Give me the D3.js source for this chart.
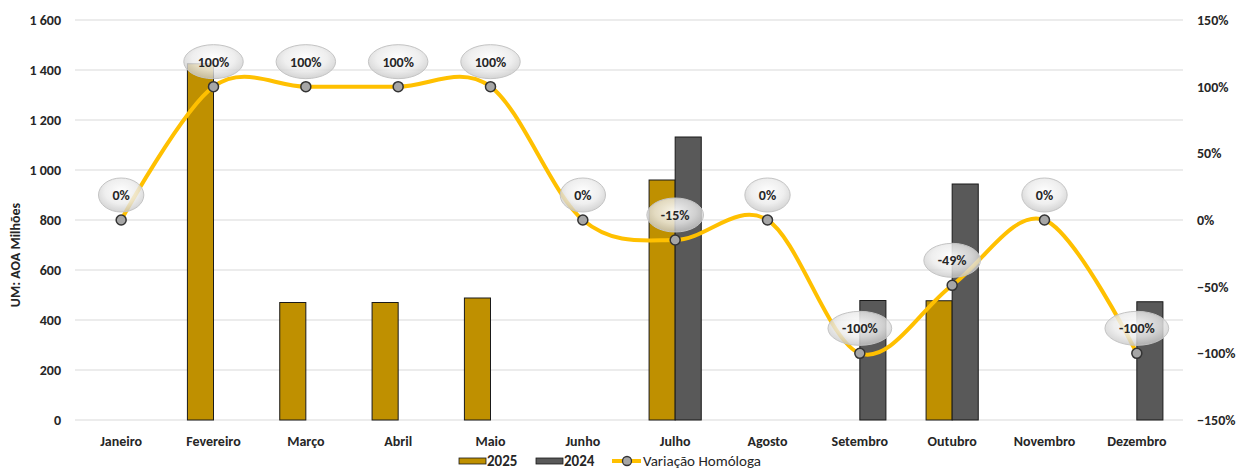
<!DOCTYPE html>
<html><head><meta charset="utf-8">
<script src="https://cdn.jsdelivr.net/npm/d3@7/dist/d3.min.js"></script>
<style>
body{margin:0;background:#fff;}
svg{display:block;font-family:Carlito,Lato,"Liberation Sans",sans-serif;}
</style></head><body>
<svg id="c" width="1237" height="470"></svg>
<script>
const months = ["Janeiro","Fevereiro","Março","Abril","Maio","Junho","Julho","Agosto","Setembro","Outubro","Novembro","Dezembro"];
const values2025 = [0,1425,470,470,488,0,960,0,0,477,0,0];
const values2024 = [0,0,0,0,0,0,1132,0,478,944,0,473];
const variation = [0,1.00,1.00,1.00,1.00,0,-0.15,0,-1.00,-0.49,0,-1.00];
const variationLabels = ["0%","100%","100%","100%","100%","0%","-15%","0%","-100%","-49%","0%","-100%"];
const leftTicks = [0,200,400,600,800,1000,1200,1400,1600];
const rightTicks = [-1.5,-1,-0.5,0,0.5,1,1.5];
const seriesNames = ["2025","2024"];
const lineName = "Variação Homóloga";
const axisTitle = "UM: AOA Milhões";

const C25 = "#BF9000", C24 = "#595959", CL = "#FFC000";
const svg = d3.select("#c");
const L = 75, R = 1183, T = 20, B = 420;

const x = d3.scaleBand().domain(months).range([L, R]);
const yL = d3.scaleLinear().domain([0,1600]).range([B, T]);
const yR = d3.scaleLinear().domain([-1.5,1.5]).range([B, T]);
const groupW = x.bandwidth()*0.565;
const xs = d3.scaleBand().domain(seriesNames).range([-groupW/2, groupW/2]);
const cx = m => x(m) + x.bandwidth()/2;

const defs = svg.append("defs");
const g = defs.append("radialGradient").attr("id","bub").attr("cx","50%").attr("cy","40%").attr("r","60%");
g.append("stop").attr("offset","0%").attr("stop-color","#ffffff").attr("stop-opacity",0.92);
g.append("stop").attr("offset","60%").attr("stop-color","#ebebeb").attr("stop-opacity",0.82);
g.append("stop").attr("offset","100%").attr("stop-color","#c8c8c8").attr("stop-opacity",0.78);

// gridlines
svg.append("g").selectAll("line").data(leftTicks).join("line")
  .attr("x1", L).attr("x2", R).attr("y1", d=>yL(d)).attr("y2", d=>yL(d))
  .attr("stroke", "#d9d9d9").attr("stroke-width", 1);

const fontC = "#262626";
const FS = 14;
// left axis
svg.append("g").selectAll("text").data(leftTicks).join("text")
  .attr("x", 61).attr("y", d=>yL(d)).attr("dy","0.35em").attr("text-anchor","end")
  .attr("font-size",FS).attr("font-weight","bold").attr("fill",fontC)
  .text(d => d3.format(",")(d).replace(/,/g," "));
// right axis
svg.append("g").selectAll("text").data(rightTicks).join("text")
  .attr("x", 1197).attr("y", d=>yR(d)).attr("dy","0.35em").attr("text-anchor","start")
  .attr("font-size",FS).attr("font-weight","bold").attr("fill",fontC)
  .text(d => d3.format(".0%")(d));
// axis title
svg.append("text").attr("transform","translate(20,255) rotate(-90)").attr("text-anchor","middle")
  .attr("font-size",FS).attr("font-weight","bold").attr("fill",fontC).text(axisTitle);
// x labels
svg.append("g").selectAll("text").data(months).join("text")
  .attr("x", d=>cx(d)).attr("y", 441).attr("dy","0.35em").attr("text-anchor","middle")
  .attr("font-size",FS).attr("font-weight","bold").attr("fill",fontC).text(d=>d);

// bars
const series = [values2025, values2024];
const colors = [C25, C24];
seriesNames.forEach((s,i) => {
  svg.append("g").selectAll("rect").data(months.map((m,j)=>({m, v: series[i][j]})).filter(d=>d.v>0)).join("rect")
    .attr("x", d=>cx(d.m)+xs(s)).attr("width", xs.bandwidth())
    .attr("y", d=>yL(d.v)).attr("height", d=>B - yL(d.v))
    .attr("fill", colors[i]).attr("stroke","#1a1a1a").attr("stroke-width",1);
});

// line
const pts = months.map((m,j)=>[cx(m), yR(variation[j])]);
svg.append("path").attr("d", d3.line().curve(d3.curveCardinal.tension(0))(pts))
  .attr("fill","none").attr("stroke",CL).attr("stroke-width",4);
svg.append("g").selectAll("circle").data(pts).join("circle")
  .attr("cx", d=>d[0]).attr("cy", d=>d[1]).attr("r",5)
  .attr("fill","#a6a6a6").attr("stroke","#333").attr("stroke-width",1.5);

// labels
const lab = svg.append("g");
months.forEach((m,j)=>{
  const px = pts[j][0], py = pts[j][1]-25;
  const gg = lab.append("g");
  const e = gg.append("ellipse").attr("cx",px).attr("cy",py).attr("ry",17)
    .attr("fill","url(#bub)").attr("stroke","#c4c4c4").attr("stroke-width",1);
  const t = gg.append("text").attr("x",px).attr("y",py).attr("dy","0.35em").attr("text-anchor","middle")
    .attr("font-size",FS).attr("font-weight","bold").attr("fill","#262626").text(variationLabels[j]);
  const w = t.node().getComputedTextLength();
  e.attr("rx", w/2+14);
});

// legend
const lg = svg.append("g");
const ly = 461;
lg.append("rect").attr("x",459).attr("y",ly-3).attr("width",27).attr("height",6).attr("fill",C25).attr("stroke","#1a1a1a").attr("stroke-width",0.8);
lg.append("text").attr("x",487).attr("y",ly).attr("dy","0.35em").attr("font-size",15).attr("font-weight","bold").attr("fill",fontC).text(seriesNames[0]);
lg.append("rect").attr("x",536).attr("y",ly-3).attr("width",27).attr("height",6).attr("fill",C24).attr("stroke","#1a1a1a").attr("stroke-width",0.8);
lg.append("text").attr("x",564).attr("y",ly).attr("dy","0.35em").attr("font-size",15).attr("font-weight","bold").attr("fill",fontC).text(seriesNames[1]);
lg.append("line").attr("x1",612).attr("x2",641).attr("y1",ly).attr("y2",ly).attr("stroke",CL).attr("stroke-width",4);
lg.append("circle").attr("cx",627).attr("cy",ly).attr("r",4.5).attr("fill","#a6a6a6").attr("stroke","#333").attr("stroke-width",1.3);
lg.append("text").attr("x",643).attr("y",ly).attr("dy","0.35em").attr("font-size",15).attr("font-weight","normal").attr("fill",fontC).text(lineName);
</script>
</body></html>
